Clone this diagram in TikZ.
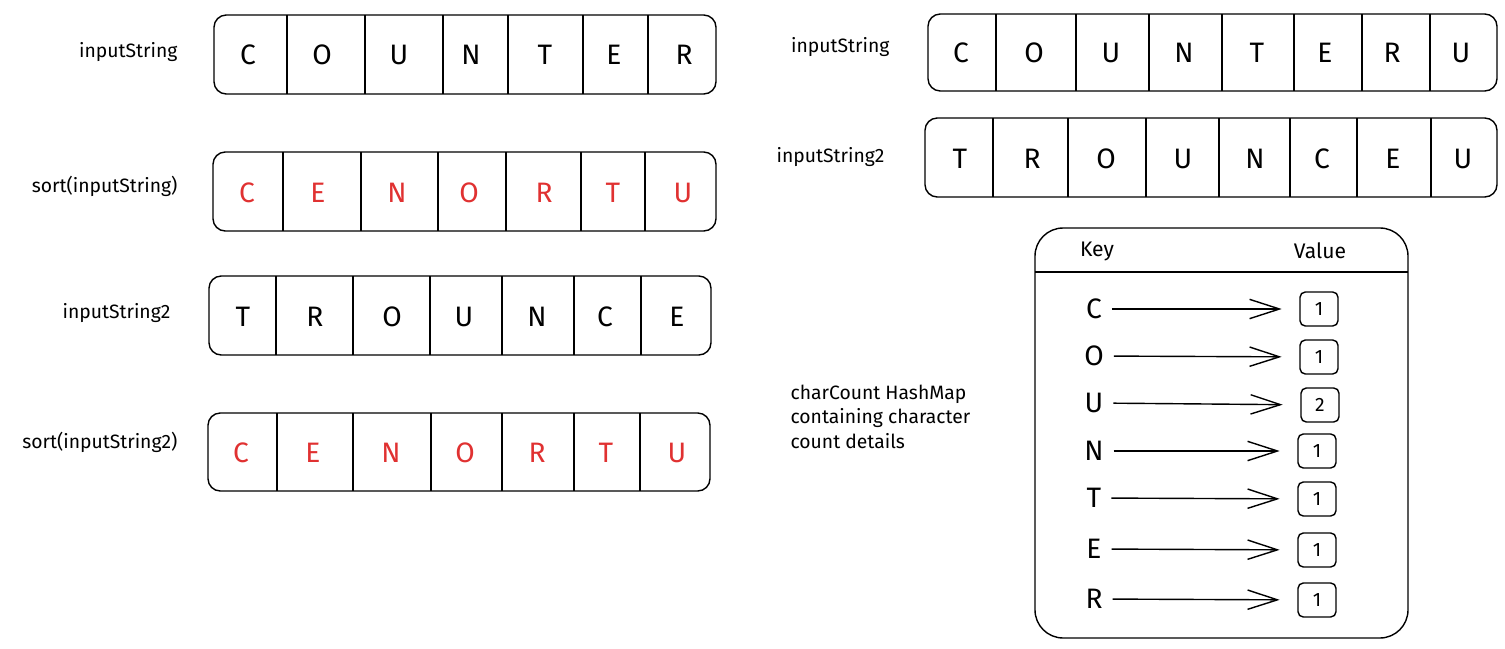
\documentclass[tikz,border=0pt]{standalone}
\usepackage{fontspec}
\setmainfont{Fira Sans}
\usepackage{tikz}
\usetikzlibrary{arrows.meta}
\definecolor{LetterRed}{RGB}{224,49,49}

\begin{document}
\begin{tikzpicture}[x=0.02cm,y=-0.02cm,line width=0.8pt,every text node part/.style={align=center},
  arraybox/.style={rounded corners=7pt},
  letter/.style={font=\fontsize{16}{18}\selectfont},
  redletter/.style={letter,text=LetterRed},
  namelabel/.style={font=\fontsize{11}{14}\selectfont,anchor=east},
  valuebox/.style={draw,rounded corners=3pt,minimum width=0.76cm,minimum height=0.68cm,font=\fontsize{11}{13}\selectfont},
  >={Straight Barb[length=17pt,width=11pt]}]

  \useasboundingbox (0,0) rectangle (1505,649);

  % inputString
  \node[namelabel] (labelA) at (184,52) {inputString};
  \draw[arraybox] (214,15) rectangle (716,94);
  \draw (287,15) -- (287,94) (365,15) -- (365,94) (443,15) -- (443,94) (508,15) -- (508,94) (583,15) -- (583,94) (648,15) -- (648,94);
  \node[letter] (a1) at (248,55) {C};
  \node[letter] (a2) at (322,55) {O};
  \node[letter] (a3) at (399,55) {U};
  \node[letter] (a4) at (471,55) {N};
  \node[letter] (a5) at (545,55) {T};
  \node[letter] (a6) at (614,55) {E};
  \node[letter] (a7) at (684,55) {R};

  % sort(inputString)
  \node[namelabel] (labelB) at (184,186) {sort(inputString)};
  \draw[arraybox] (213,152) rectangle (716,231);
  \draw (283,152) -- (283,231) (361,152) -- (361,231) (438,152) -- (438,231) (506,152) -- (506,231) (581,152) -- (581,231) (645,152) -- (645,231);
  \node[redletter] (b1) at (247,193) {C};
  \node[redletter] (b2) at (318,193) {E};
  \node[redletter] (b3) at (397,193) {N};
  \node[redletter] (b4) at (469,193) {O};
  \node[redletter] (b5) at (544,193) {R};
  \node[redletter] (b6) at (613,193) {T};
  \node[redletter] (b7) at (683,193) {U};

  % inputString2
  \node[namelabel] (labelC) at (177,313) {inputString2};
  \draw[arraybox] (209,276) rectangle (711,355);
  \draw (276,276) -- (276,355) (353,276) -- (353,355) (430,276) -- (430,355) (502,276) -- (502,355) (574,276) -- (574,355) (641,276) -- (641,355);
  \node[letter] (c1) at (243,317) {T};
  \node[letter] (c2) at (315,317) {R};
  \node[letter] (c3) at (392,317) {O};
  \node[letter] (c4) at (464,317) {U};
  \node[letter] (c5) at (537,317) {N};
  \node[letter] (c6) at (605,317) {C};
  \node[letter] (c7) at (677,317) {E};

  % sort(inputString2)
  \node[namelabel] (labelD) at (184,442) {sort(inputString2)};
  \draw[arraybox] (208,413) rectangle (710,491);
  \draw (277,413) -- (277,491) (353,413) -- (353,491) (431,413) -- (431,491) (502,413) -- (502,491) (574,413) -- (574,491) (640,413) -- (640,491);
  \node[redletter] (d1) at (241,453) {C};
  \node[redletter] (d2) at (313,453) {E};
  \node[redletter] (d3) at (391,453) {N};
  \node[redletter] (d4) at (465,453) {O};
  \node[redletter] (d5) at (537,453) {R};
  \node[redletter] (d6) at (606,453) {T};
  \node[redletter] (d7) at (677,453) {U};

  % inputString (right)
  \node[namelabel] (labelE) at (896,47) {inputString};
  \draw[arraybox] (928,14) rectangle (1497,91);
  \draw (996,14) -- (996,91) (1076,14) -- (1076,91) (1149,14) -- (1149,91) (1222,14) -- (1222,91) (1294,14) -- (1294,91) (1362,14) -- (1362,91) (1430,14) -- (1430,91);
  \node[letter] (e1) at (961,53) {C};
  \node[letter] (e2) at (1034,53) {O};
  \node[letter] (e3) at (1111,53) {U};
  \node[letter] (e4) at (1184,53) {N};
  \node[letter] (e5) at (1257,53) {T};
  \node[letter] (e6) at (1325,53) {E};
  \node[letter] (e7) at (1392,53) {R};
  \node[letter] (e8) at (1461,53) {U};

  % inputString2 (right)
  \node[namelabel] (labelF) at (891,157) {inputString2};
  \draw[arraybox] (925,118) rectangle (1497,197);
  \draw (993,118) -- (993,197) (1068,118) -- (1068,197) (1146,118) -- (1146,197) (1219,118) -- (1219,197) (1290,118) -- (1290,197) (1357,118) -- (1357,197) (1431,118) -- (1431,197);
  \node[letter] (f1) at (960,159) {T};
  \node[letter] (f2) at (1032,159) {R};
  \node[letter] (f3) at (1106,159) {O};
  \node[letter] (f4) at (1183,159) {U};
  \node[letter] (f5) at (1255,159) {N};
  \node[letter] (f6) at (1322,159) {C};
  \node[letter] (f7) at (1393,159) {E};
  \node[letter] (f8) at (1463,159) {U};

  % charCount hashmap
  \node[anchor=north west,every text node part/.style={align=left},font=\fontsize{11}{14.2}\selectfont] (mapnote) at (784,378) {charCount HashMap\\containing character\\count details};
  \draw[rounded corners=16pt] (1035,228) rectangle (1408,638);
  \draw (1035,272) -- (1408,272);
  \node[font=\fontsize{12}{14}\selectfont] (keyhead) at (1097,251) {Key};
  \node[font=\fontsize{12}{14}\selectfont] (valuehead) at (1320,251) {Value};

  \node[letter] (keyC) at (1094,309) {C};
  \node[letter] (keyO) at (1094,356) {O};
  \node[letter] (keyU) at (1094,403) {U};
  \node[letter] (keyN) at (1094,451) {N};
  \node[letter] (keyT) at (1094,498) {T};
  \node[letter] (keyE) at (1094,549) {E};
  \node[letter] (keyR) at (1094,599) {R};

  \node[valuebox] (valC) at (1319,309) {1};
  \node[valuebox] (valO) at (1319,357) {1};
  \node[valuebox] (valU) at (1320,405) {2};
  \node[valuebox] (valN) at (1317,451) {1};
  \node[valuebox] (valT) at (1317,499) {1};
  \node[valuebox] (valE) at (1317,550) {1};
  \node[valuebox] (valR) at (1317,600) {1};

  \draw[->, shorten <=2pt, shorten >=10pt] (keyC) -- (valC);
  \draw[->, shorten <=2pt, shorten >=10pt] (keyO) -- (valO);
  \draw[->, shorten <=2pt, shorten >=10pt] (keyU) -- (valU);
  \draw[->, shorten <=2pt, shorten >=10pt] (keyN) -- (valN);
  \draw[->, shorten <=2pt, shorten >=10pt] (keyT) -- (valT);
  \draw[->, shorten <=2pt, shorten >=10pt] (keyE) -- (valE);
  \draw[->, shorten <=2pt, shorten >=10pt] (keyR) -- (valR);

\end{tikzpicture}
\end{document}
